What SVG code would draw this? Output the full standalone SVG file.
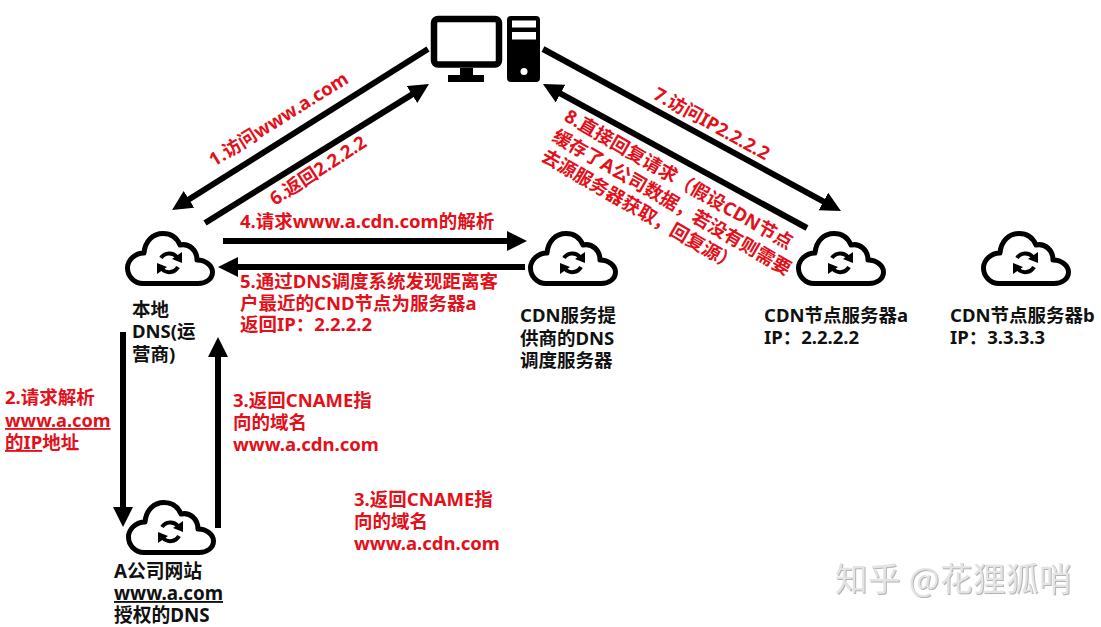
<svg xmlns="http://www.w3.org/2000/svg" width="1101" height="627" viewBox="0 0 1101 627">
<style>
text{font-family:"Noto Sans","Noto Sans CJK SC","Open Sans",sans-serif;font-size:18.5px;font-weight:700}
.r{fill:#e3101a}
.k{fill:#111}
.u{text-decoration:underline}
.c{stroke:#000;stroke-width:6;fill:none}
.wm{font-family:"Noto Sans CJK SC",sans-serif;font-size:32.5px;font-weight:400;fill:#e4e4e4;letter-spacing:.5px;filter:drop-shadow(1px 1px 0 #b4b4b4)}
</style>
<defs>
<marker id="ah" markerUnits="userSpaceOnUse" markerWidth="22" markerHeight="22" refX="4" refY="10" orient="auto"><path d="M0 0L20 10L0 20Z" fill="#000"/></marker>
<g id="cloud">
<path d="M18 52.5C9 52.5 2.5 45 2.5 37C2.5 29 10 22 19 22C20 10 28 2.5 38 2.5C46 2.5 52 7 55 14C64 12 72 19 72 29C81 29 87.5 35 87.5 41C87.5 48 81 52.5 73 52.5Z" fill="#fff" stroke="#000" stroke-width="5" stroke-linejoin="round"/>
<path d="M36 27A10 10 0 0 1 52 26M53 36A10 10 0 0 1 37 38" fill="none" stroke="#000" stroke-width="4"/>
<path d="M47 28L57 32L57 21ZM42 36L32 32L32 43Z" fill="#000"/>
</g>
</defs>
<rect width="1101" height="627" fill="#fff"/>
<g id="connectors">
<path class="c" d="M428 49L185.6 201.5" marker-end="url(#ah)"/>
<path class="c" d="M205 223L415.4 92.4" marker-end="url(#ah)"/>
<path class="c" d="M543 49L826.9 203.4" marker-end="url(#ah)"/>
<path class="c" d="M807 228L557 91.7" marker-end="url(#ah)"/>
<path class="c" d="M223 241H511" marker-end="url(#ah)"/>
<path class="c" d="M525 267H234" marker-end="url(#ah)"/>
<path class="c" d="M123 332V511" marker-end="url(#ah)"/>
<path class="c" d="M218 528V353" marker-end="url(#ah)"/>
</g>
<g id="client">
<rect x="434" y="19" width="65" height="45.5" rx="4" fill="#fff" stroke="#000" stroke-width="6.5"/>
<path d="M460 68H473V75H484V82H448V75H460Z" fill="#000"/>
<rect x="507" y="16" width="33" height="66" rx="4" fill="#000"/>
<rect x="512" y="20.5" width="24" height="7" fill="#fff"/>
<rect x="512" y="32" width="24" height="7.5" fill="#fff"/>
<circle cx="524" cy="71.5" r="3.5" fill="#fff"/>
</g>
<g id="local-dns">
<use href="#cloud" x="125" y="231"/>
<text class="k" x="132" y="316">本地</text>
<text class="k" x="132" y="338">DNS(运</text>
<text class="k" x="132" y="361">营商)</text>
</g>
<g id="cdn-dns">
<use href="#cloud" x="528" y="231"/>
<text class="k" x="520" y="322">CDN服务提</text>
<text class="k" x="520" y="345">供商的DNS</text>
<text class="k" x="520" y="367">调度服务器</text>
</g>
<g id="node-a">
<use href="#cloud" x="796" y="231"/>
<text class="k" x="764" y="322">CDN节点服务器a</text>
<text class="k" x="764" y="344">IP：2.2.2.2</text>
</g>
<g id="node-b">
<use href="#cloud" x="981" y="231"/>
<text class="k" x="950" y="322">CDN节点服务器b</text>
<text class="k" x="950" y="344">IP：3.3.3.3</text>
</g>
<g id="auth-dns">
<use href="#cloud" x="126" y="500"/>
<text class="k" x="114" y="578" style="font-size:18.8px">A公司网站</text>
<text class="k u" x="114" y="600" style="font-size:18.8px">www.a.com</text>
<text class="k" x="114" y="622" style="font-size:18.8px">授权的DNS</text>
</g>
<g id="labels">
<text class="r" transform="translate(214 167) rotate(-32)">1.访问www.a.com</text>
<text class="r" transform="translate(275 206) rotate(-33)">6.返回2.2.2.2</text>
<text class="r" x="240" y="228">4.请求www.a.cdn.com的解析</text>
<text class="r" x="240" y="288">5.通过DNS调度系统发现距离客</text>
<text class="r" x="240" y="310">户最近的CND节点为服务器a</text>
<text class="r" x="240" y="331">返回IP：2.2.2.2</text>
<text class="r" transform="translate(652 98) rotate(29)">7.访问IP2.2.2.2</text>
<text class="r" transform="translate(563 120) rotate(30)">8.直接回复请求（假设CDN节点</text>
<text class="r" transform="translate(551 140) rotate(30)">缓存了A公司数据，若没有则需要</text>
<text class="r" transform="translate(540 160) rotate(30)">去源服务器获取，回复源）</text>
<text class="r" x="5" y="404">2.请求解析</text>
<text class="r u" x="5" y="427" style="font-size:18.2px">www.a.com</text>
<text class="r" x="5" y="449"><tspan class="u">的IP</tspan>地址</text>
<text class="r" x="233" y="407">3.返回CNAME指</text>
<text class="r" x="233" y="429">向的域名</text>
<text class="r" x="233" y="451">www.a.cdn.com</text>
<text class="r" x="354" y="506">3.返回CNAME指</text>
<text class="r" x="354" y="528">向的域名</text>
<text class="r" x="354" y="550">www.a.cdn.com</text>
</g>
<text class="wm" x="835" y="591">知乎 @花狸狐哨</text>
</svg>
